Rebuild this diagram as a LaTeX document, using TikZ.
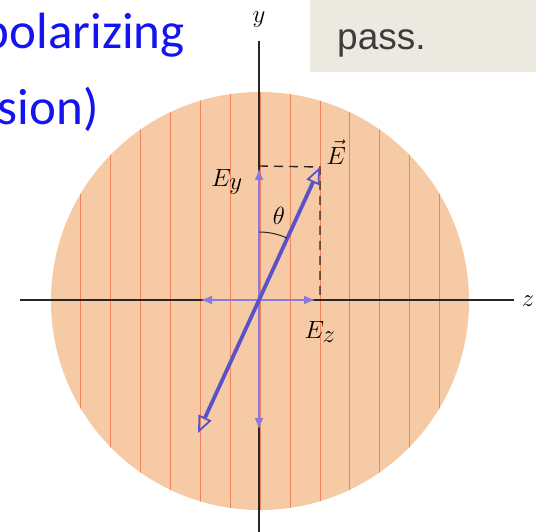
\documentclass[tikz,border=0pt]{standalone}
\usepackage{fontspec}
\newfontfamily\slidefont{Carlito}
\newfontfamily\bookfont{Liberation Sans}
\usetikzlibrary{arrows.meta}
\definecolor{slideblue}{RGB}{20,20,240}
\definecolor{filterpeach}{RGB}{246,202,164}
\definecolor{stripecolor}{RGB}{240,132,92}
\definecolor{fieldcolor}{RGB}{92,82,200}
\definecolor{compcolor}{RGB}{138,122,222}
\definecolor{boxgray}{RGB}{236,233,224}
\definecolor{captiongray}{RGB}{60,60,60}

\begin{document}
\begin{tikzpicture}[x=1pt,y=1pt,
			axis/.style={
				draw=black!85,
				line width=1.4pt
			},
			guide/.style={
				draw=black!85,
				line width=1.4pt,
				dash pattern=on 9pt off 6pt
			},
			field/.style={
				draw=fieldcolor,
				line width=3.8pt,
				{Triangle[open,length=17pt,width=14pt,line width=1.8pt]}-{Triangle[open,length=17pt,width=14pt,line width=1.8pt]}
			},
			comp/.style={
				draw=compcolor,
				line width=2.8pt,
				{Latex[length=12pt,width=9pt]}-{Latex[length=12pt,width=9pt]}
			},
			lbl/.style={
				inner sep=0pt,
				font=\fontsize{36}{40}\selectfont
			},
			slide/.style={
				inner sep=0pt,
				text=slideblue,
				font=\slidefont\fontsize{51}{60}\selectfont
			}
			]
			
			\useasboundingbox (0,0) rectangle (536,532);
			\clip (0,0) rectangle (536,532);
			
			% Slide title (cropped)
			\node[slide,anchor=base east] (title1) at (185,483) {polarizing};
			\node[slide,anchor=base east] (title2) at (99,407) {sion)};
			
			% Caption box (cropped)
			\fill[boxgray] (310,460) rectangle (536,532);
			\node[inner sep=0pt,anchor=base west,text=captiongray,
				font=\bookfont\fontsize{37}{42}\selectfont] (caption) at (337,482) {pass.};
			
			% Polarizing sheet
			\coordinate (C) at (260,231);
			\fill[filterpeach] (C) circle (209);
			\begin{scope}
				\clip (C) circle (209);
				\foreach \k in {-6,...,6}
				\draw[stripecolor,line width=0.6pt] ([xshift=\k*29.9pt]C) ++(0,-220) -- ++(0,440);
			\end{scope}
			
			% Axes
			\coordinate (O) at (259,232);
			\coordinate (ytop) at (259,491);
			\coordinate (ybot) at (259,0);
			\coordinate (zleft) at (20,232);
			\coordinate (zright) at (514,232);
			\draw[axis] (ybot) -- (ytop);
			\draw[axis] (zleft) -- (zright);
			\node[lbl] (ylabel) at (259,512) {$y$};
			\node[lbl] (zlabel) at (528,231) {$z$};
			
			% Projections
			\coordinate (Etip) at (320,365);
			\coordinate (Etail) at (198,99);
			\coordinate (corner) at (259,366);
			\coordinate (foot) at (320,232);
			\draw[guide] (corner) -- (Etip) -- (foot);
			
			% Components
			\coordinate (Eytop) at (259,364);
			\coordinate (Eybot) at (259,102);
			\coordinate (Ezleft) at (200,232);
			\coordinate (Ezright) at (316,232);
			\draw[comp] (Eybot) -- (Eytop);
			\draw[comp] (Ezleft) -- (Ezright);
			
			% Field vector
			\draw[field] (Etail) -- (Etip);
			
			% Angle
			\draw[black!85,line width=1pt] ([shift={(90:68)}]O) arc[start angle=90,end angle=65.6,radius=68];
			\node[lbl] (theta) at (279,316) {$\theta$};
			
			% Labels
			\node[lbl] (Elabel) at (336,380) {$\vec{E}$};
			\node[lbl] (Eylabel) at (227,350) {$E_y$};
			\node[lbl] (Ezlabel) at (320,200) {$E_z$};
			
		\end{tikzpicture}
\end{document}
